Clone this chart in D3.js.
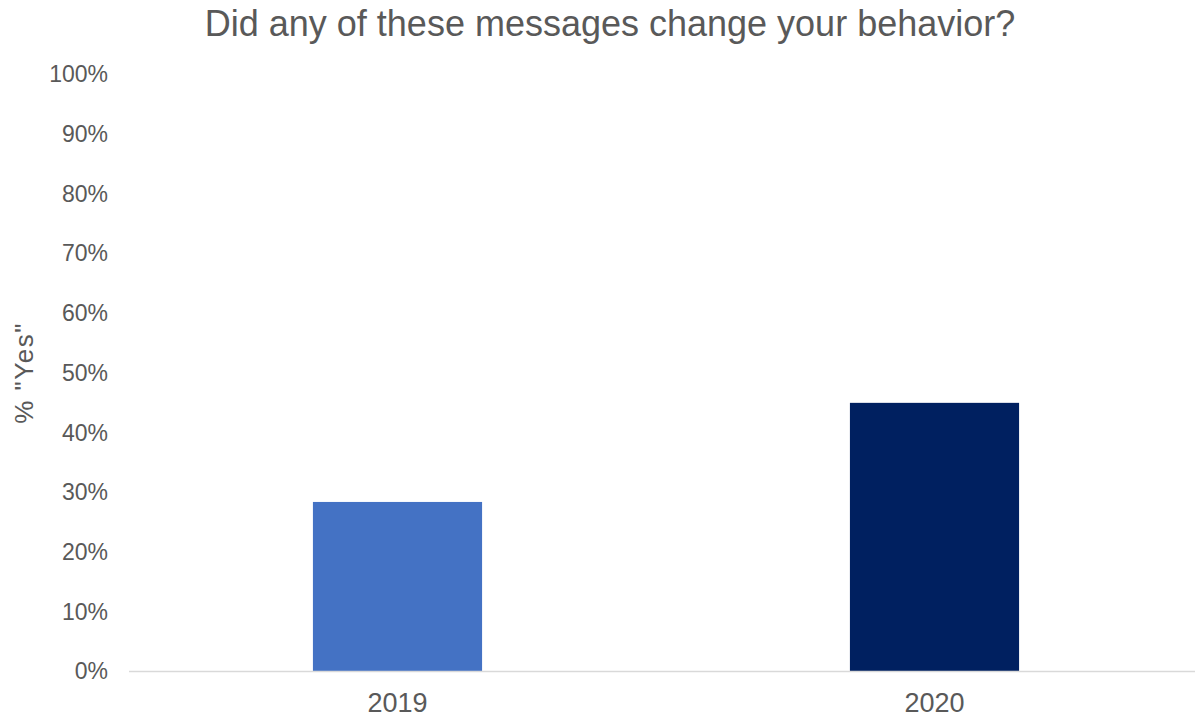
<!DOCTYPE html>
<html>
<head>
<meta charset="utf-8">
<script src="https://cdn.jsdelivr.net/npm/d3@7"></script>
<style>
  html, body { margin: 0; padding: 0; background: #fff; }
  svg { display: block; font-family: "Liberation Sans", Arial, sans-serif; }
</style>
</head>
<body>
<svg id="chart" width="1195" height="719"></svg>
<script>
// Survey years and share answering "Yes"
const years = ["2019", "2020"];
const yesShare = [0.284, 0.450];
const barColors = ["#4472C4", "#002060"];
const yTicks = [0, 0.1, 0.2, 0.3, 0.4, 0.5, 0.6, 0.7, 0.8, 0.9, 1.0];

const svg = d3.select("#chart");
const textColor = "#595959";

const x = d3.scaleBand()
  .domain(years)
  .range([129, 1203])
  .paddingInner(0.685)
  .paddingOuter(0.3425);

const y = d3.scaleLinear()
  .domain([0, 1])
  .range([671.5, 74.5]);

// Title
svg.append("text")
  .attr("x", 610)
  .attr("y", 36)
  .attr("text-anchor", "middle")
  .attr("font-size", 36)
  .attr("fill", textColor)
  .text("Did any of these messages change your behavior?");

// Bars
svg.append("g")
  .selectAll("rect")
  .data(years)
  .join("rect")
  .attr("x", d => x(d))
  .attr("width", x.bandwidth())
  .attr("y", (d, i) => y(yesShare[i]))
  .attr("height", (d, i) => y(0) - y(yesShare[i]))
  .attr("fill", (d, i) => barColors[i]);

// Y axis (labels only)
const yAxis = svg.append("g")
  .attr("transform", "translate(108,0)")
  .call(d3.axisLeft(y).tickValues(yTicks).tickFormat(d3.format(".0%")).tickSize(0).tickPadding(0));
yAxis.select(".domain").remove();
yAxis.selectAll("text")
  .attr("font-size", 23)
  .attr("fill", textColor)
  .attr("font-family", "Liberation Sans, Arial, sans-serif");

// X axis baseline and category labels
const xAxis = svg.append("g")
  .attr("transform", `translate(0,${y(0)})`)
  .call(d3.axisBottom(x).tickSize(0).tickPadding(21));
xAxis.select(".domain")
  .attr("stroke", "#D9D9D9")
  .attr("stroke-width", 1.5)
  .attr("d", "M129,0H1195");
xAxis.selectAll("text")
  .attr("font-size", 27)
  .attr("fill", textColor)
  .attr("font-family", "Liberation Sans, Arial, sans-serif");

// Y axis title
svg.append("text")
  .attr("transform", "translate(33,373) rotate(-90)")
  .attr("text-anchor", "middle")
  .attr("font-size", 26)
  .attr("letter-spacing", 1.5)
  .attr("fill", textColor)
  .text('% "Yes"');
</script>
</body>
</html>
